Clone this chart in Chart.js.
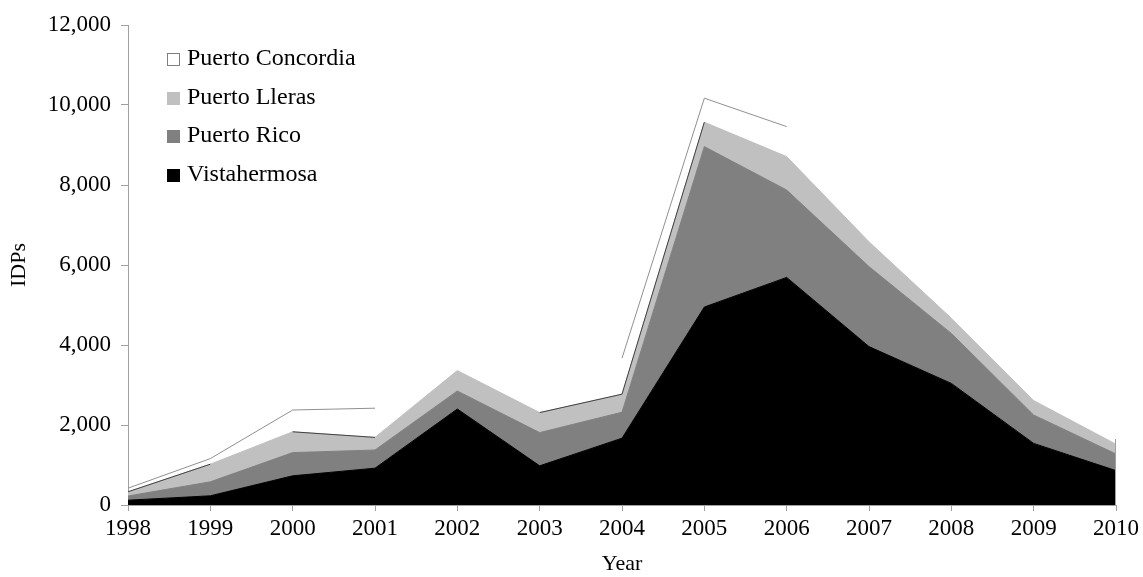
<!DOCTYPE html>
<html>
<head>
<meta charset="utf-8">
<script src="https://cdn.jsdelivr.net/npm/chart.js@4/dist/chart.umd.min.js"></script>
<style>
  body { margin: 0; background: #fff; }
  #wrap { position: relative; width: 1143px; height: 577px; }
  #legend { position: absolute; left: 167px; top: 38px; font-family: 'Liberation Serif', 'Times New Roman', serif; font-size: 24px; color: #000; }
  #legend div { height: 38.5px; line-height: 38.5px; white-space: nowrap; }
  #legend span.box { display: inline-block; width: 11px; height: 11px; margin-right: 7px; vertical-align: -1px; }
</style>
</head>
<body>
<div id="wrap">
  <canvas id="idpChart" width="1143" height="577"></canvas>
  <div id="legend"></div>
</div>
<script>
// IDPs per municipality, 1998-2010
const years = ['1998', '1999', '2000', '2001', '2002', '2003', '2004', '2005', '2006', '2007', '2008', '2009', '2010'];
const vistahermosa = [120, 230, 730, 920, 2400, 980, 1670, 4950, 5690, 3960, 3040, 1540, 860];
const puertoRico = [105, 350, 580, 455, 450, 830, 650, 4010, 2185, 2000, 1250, 710, 415];
const puertoLleras = [105, 440, 520, 315, 510, 500, 450, 610, 835, 620, 380, 360, 245];
const puertoConcordia = [90, 140, 545, 730, null, null, 900, 600, 750, null, null, null, 130];
const yTicks = [0, 2000, 4000, 6000, 8000, 10000, 12000];

// segments of the Lleras top edge drawn as a dark line in the original
const darkLlerasSegments = [0, 2, 5, 6];

Chart.defaults.font.family = "'Liberation Serif', 'Times New Roman', serif";
Chart.defaults.color = '#000';

// extra strokes: dark bits on the Lleras edge and the right edge at 2010
const edgeLines = {
  id: 'edgeLines',
  afterDatasetsDraw(chart) {
    const c = chart.ctx;
    const lleras = chart.getDatasetMeta(2).data;
    c.save();
    c.lineWidth = 1;
    c.strokeStyle = '#404040';
    darkLlerasSegments.forEach(i => {
      c.beginPath();
      c.moveTo(lleras[i].x, lleras[i].y);
      c.lineTo(lleras[i + 1].x, lleras[i + 1].y);
      c.stroke();
    });
    const conc = chart.getDatasetMeta(3).data;
    const pt = conc[conc.length - 1];
    c.strokeStyle = '#a0a0a0';
    c.beginPath();
    c.moveTo(pt.x - 0.5, pt.y);
    c.lineTo(pt.x - 0.5, chart.scales.y.getPixelForValue(0));
    c.stroke();
    c.restore();
  }
};

const series = [
  { label: 'Vistahermosa', data: vistahermosa, bg: '#000000', border: '#000000' },
  { label: 'Puerto Rico', data: puertoRico, bg: '#808080', border: '#808080' },
  { label: 'Puerto Lleras', data: puertoLleras, bg: '#c0c0c0', border: '#c0c0c0' },
  { label: 'Puerto Concordia', data: puertoConcordia, bg: '#ffffff', border: '#909090' }
];

const datasets = series.map((s, i) => ({
  label: s.label,
  data: s.data,
  backgroundColor: s.bg,
  borderColor: s.border,
  borderWidth: 1,
  fill: i === 0 ? 'origin' : (i === 3 ? false : '-1'),
  pointRadius: 0,
  tension: 0,
  spanGaps: false
}));

const ctx = document.getElementById('idpChart').getContext('2d');
new Chart(ctx, {
  type: 'line',
  data: { labels: years, datasets: datasets },
  options: {
    responsive: false,
    animation: false,
    layout: { padding: { top: 25, right: 27, bottom: 0, left: 0 } },
    plugins: {
      legend: { display: false },
      tooltip: { enabled: false }
    },
    scales: {
      x: {
        offset: false,
        grid: { drawOnChartArea: false, drawTicks: true, tickLength: 6, color: '#a0a0a0' },
        border: { color: '#a0a0a0' },
        ticks: { font: { size: 23 }, padding: 4, maxRotation: 0 },
        title: { display: true, text: 'Year', font: { size: 22 }, padding: 0 },
        afterFit: scale => { scale.height = 72; }
      },
      y: {
        stacked: true,
        min: 0,
        max: 12000,
        grid: { drawOnChartArea: false, drawTicks: true, tickLength: 7, color: '#a0a0a0' },
        border: { color: '#a0a0a0' },
        ticks: {
          stepSize: 2000,
          font: { size: 23 },
          padding: 10,
          callback: v => yTicks.includes(v) ? v.toLocaleString('en-US') : ''
        },
        title: { display: true, text: 'IDPs', font: { size: 22 }, padding: { top: 6 } },
        afterFit: scale => { scale.width = 128; }
      }
    }
  },
  plugins: [edgeLines]
});

// legend in the upper left of the plot, top series first
const legend = document.getElementById('legend');
series.slice().reverse().forEach(s => {
  const row = document.createElement('div');
  const box = document.createElement('span');
  box.className = 'box';
  box.style.background = s.bg;
  box.style.border = '1px solid ' + (s.bg === '#ffffff' ? '#808080' : s.bg);
  row.appendChild(box);
  row.appendChild(document.createTextNode(s.label));
  legend.appendChild(row);
});
</script>
</body>
</html>
